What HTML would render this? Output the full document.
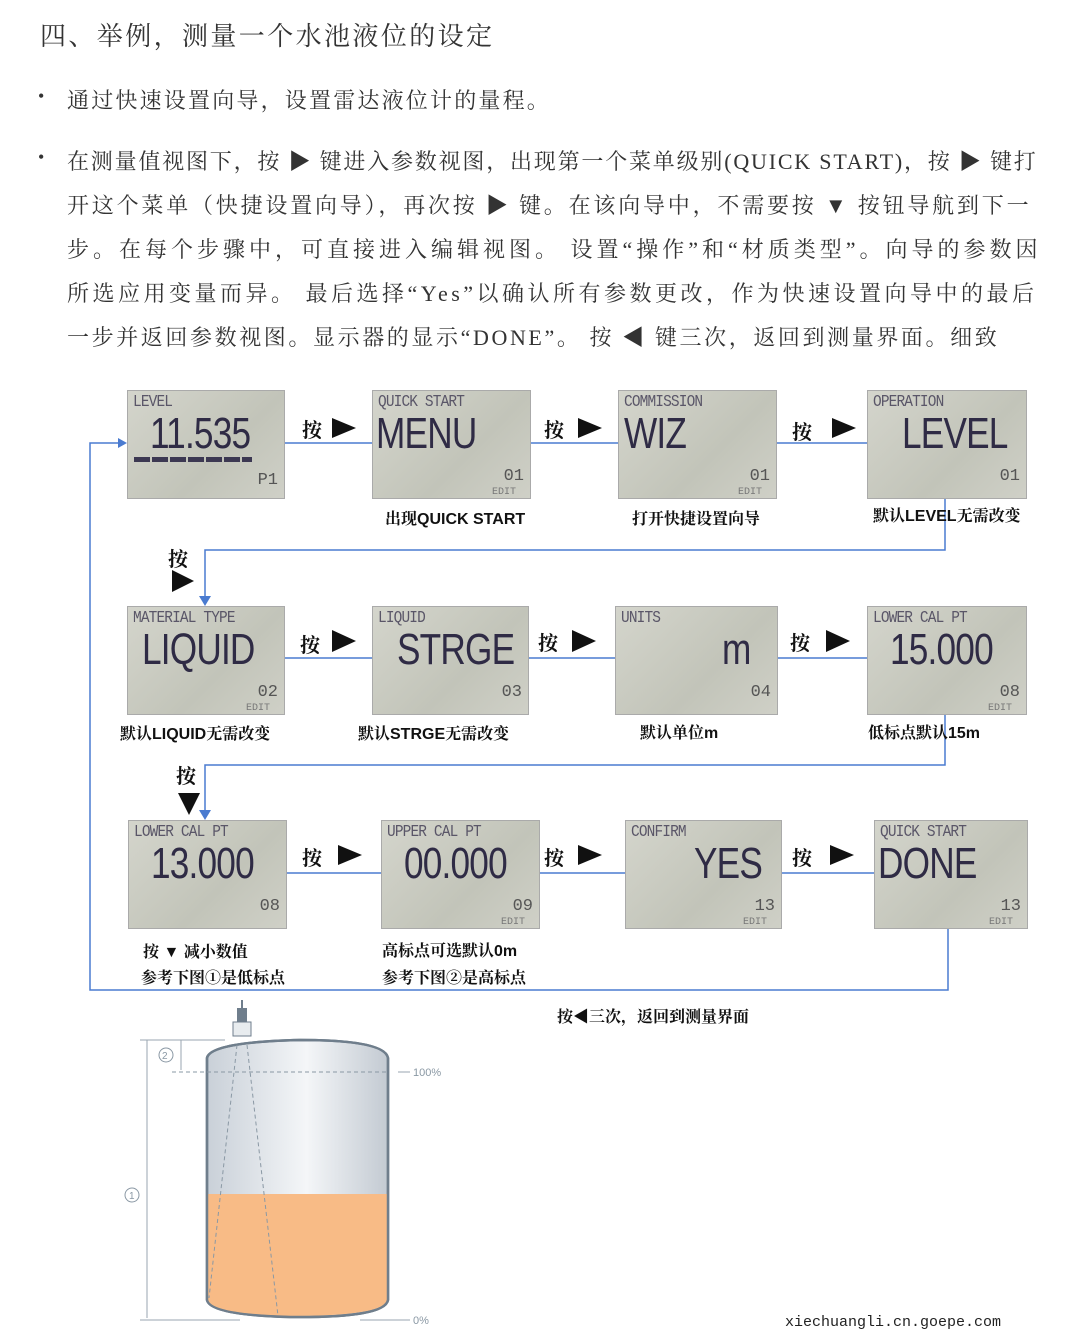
<!DOCTYPE html>
<html><head><meta charset="utf-8"><style>
body{margin:0;width:1080px;height:1342px;background:#fff;position:relative;overflow:hidden;font-family:"Liberation Serif","Noto Serif CJK SC",serif;color:#333}
.t{position:absolute;white-space:nowrap}
.p{font-size:22px;left:67px}
.lcd{position:absolute;background:linear-gradient(135deg,#d4d5cc,#c2c4b9 60%,#cfd0c7);border:1px solid #aaa;color:#3c3852;font-family:"Liberation Mono",monospace;overflow:hidden}
.lcd .s{position:absolute;left:5px;top:2px;font-size:17px;letter-spacing:-1px;color:#5a5668;transform:scaleX(.85);transform-origin:left}
.lcd .b{position:absolute;top:18px;font-size:44px;font-family:"Liberation Sans",sans-serif;transform:scaleX(.8);transform-origin:left;letter-spacing:-1px;color:#2f2b45}
.lcd .n{position:absolute;right:6px;bottom:12px;font-size:17px;color:#555}
.lcd .e{position:absolute;right:14px;bottom:0;font-size:10px;color:#777}
.lab{position:absolute;font-size:16px;font-weight:bold;font-family:"Liberation Sans","Noto Serif CJK SC",sans-serif;color:#111;white-space:nowrap}
.k{position:absolute;font-size:20px;font-weight:bold;font-family:"Noto Serif CJK SC",serif;color:#111;white-space:nowrap}
</style></head><body>
<div class="t" style="left:40px;top:16px;font-size:26px;letter-spacing:2.4px">四、举例，测量一个水池液位的设定</div>
<div class="t" style="left:38px;top:86px;font-size:18px">•</div>
<div class="t p" style="top:84px;letter-spacing:2.2px">通过快速设置向导，设置雷达液位计的量程。</div>
<div class="t" style="left:38px;top:147px;font-size:18px">•</div>
<div class="t p" style="top:145px;letter-spacing:1.8px">在测量值视图下，按 ▶ 键进入参数视图，出现第一个菜单级别(QUICK START)，按 ▶ 键打</div>
<div class="t p" style="top:189px;letter-spacing:2.8px">开这个菜单（快捷设置向导），再次按 ▶ 键。在该向导中，不需要按 ▼ 按钮导航到下一</div>
<div class="t p" style="top:233px;letter-spacing:4px">步。在每个步骤中，可直接进入编辑视图。 设置“操作”和“材质类型”。向导的参数因</div>
<div class="t p" style="top:277px;letter-spacing:3.5px">所选应用变量而异。 最后选择“Yes”以确认所有参数更改，作为快速设置向导中的最后</div>
<div class="t p" style="top:321px;letter-spacing:2.6px">一步并返回参数视图。显示器的显示“DONE”。 按 ◀ 键三次，返回到测量界面。细致</div>

<svg width="1080" height="1342" style="position:absolute;left:0;top:0">
<g stroke="#4a7bd0" stroke-width="1.5" fill="none">
<path d="M283 443H372M529 443H618M775 443H867"/>
<path d="M283 658H372M527 658H615M776 658H867"/>
<path d="M285 873H381M538 873H625M780 873H874"/>
<path d="M945 497V550H205V598"/>
<path d="M945 713V765H205V812"/>
<path d="M948 927V990H90V443H120"/>
</g>
<g fill="#4a7bd0"><path d="M199 596L205 606L211 596Z"/><path d="M199 810L205 820L211 810Z"/><path d="M118 438L127 443L118 448Z"/></g>
<g fill="#111"><path d="M332 418L356 428L332 438Z"/><path d="M578 418L602 428L578 438Z"/><path d="M832 418L856 428L832 438Z"/>
<path d="M332 630L356 641L332 652Z"/><path d="M572 630L596 641L572 652Z"/><path d="M826 630L850 641L826 652Z"/>
<path d="M338 845L362 855L338 865Z"/><path d="M578 845L602 855L578 865Z"/><path d="M830 845L854 855L830 865Z"/>
<path d="M172 570L194 581L172 592Z"/><path d="M178 793L200 793L189 815Z"/></g>
<defs><linearGradient id="g" x1="0" x2="1"><stop offset="0" stop-color="#c9d0d8"/><stop offset=".55" stop-color="#f4f6f8"/><stop offset="1" stop-color="#c3cad2"/></linearGradient></defs>
<path d="M207 1058Q210 1042 300 1040Q385 1040 388 1058V1300Q385 1318 290 1317Q210 1315 207 1300Z" fill="url(#g)" stroke="#6f7e8c" stroke-width="2.5"/>
<path d="M208 1194H387V1300Q384 1316 290 1316Q211 1314 208 1300Z" fill="#f8bb86"/>
<path d="M207 1058Q210 1042 300 1040Q385 1040 388 1058V1300Q385 1318 290 1317Q210 1315 207 1300Z" fill="none" stroke="#6f7e8c" stroke-width="2.5"/>
<rect x="233" y="1022" width="18" height="14" fill="#e8ecef" stroke="#6f7e8c"/><rect x="237" y="1008" width="10" height="14" fill="#6f7e8c"/><rect x="241" y="1000" width="2" height="10" fill="#6f7e8c"/>
<g stroke="#8a98a4" stroke-dasharray="4 3" fill="none"><path d="M172 1072H388"/><path d="M237 1045L209 1298M247 1045L278 1316"/></g>
<g stroke="#9aa6b0" fill="none"><path d="M140 1040H225M140 1320H240M360 1320H410M398 1072H410M147 1040V1318M181 1040V1070"/></g>
<g font-family="Liberation Sans" font-size="11" fill="#8a98a4"><text x="413" y="1076">100%</text><text x="413" y="1324">0%</text></g>
<circle cx="166" cy="1055" r="7" fill="none" stroke="#8a98a4"/><text x="162" y="1059" font-size="10" fill="#8a98a4" font-family="Liberation Sans">2</text>
<circle cx="132" cy="1195" r="7" fill="none" stroke="#8a98a4"/><text x="129" y="1199" font-size="10" fill="#8a98a4" font-family="Liberation Sans">1</text>
</svg>

<div class="lcd" style="left:127px;top:390px;width:156px;height:107px"><div class="s">LEVEL</div><div class="b" style="left:22px">11.535</div><div style="position:absolute;left:6px;top:66px;width:118px;height:5px;background:repeating-linear-gradient(90deg,#3c3852 0 16px,transparent 16px 18px)"></div><div class="n" style="bottom:8px">P1</div></div>
<div class="lcd" style="left:372px;top:390px;width:157px;height:107px"><div class="s">QUICK START</div><div class="b" style="left:3px">MENU</div><div class="n">01</div><div class="e">EDIT</div></div>
<div class="lcd" style="left:618px;top:390px;width:157px;height:107px"><div class="s">COMMISSION</div><div class="b" style="left:5px">WIZ</div><div class="n">01</div><div class="e">EDIT</div></div>
<div class="lcd" style="left:867px;top:390px;width:158px;height:107px"><div class="s">OPERATION</div><div class="b" style="left:34px">LEVEL</div><div class="n">01</div></div>

<div class="lcd" style="left:127px;top:606px;width:156px;height:107px"><div class="s">MATERIAL TYPE</div><div class="b" style="left:14px">LIQUID</div><div class="n">02</div><div class="e">EDIT</div></div>
<div class="lcd" style="left:372px;top:606px;width:155px;height:107px"><div class="s">LIQUID</div><div class="b" style="left:24px">STRGE</div><div class="n">03</div></div>
<div class="lcd" style="left:615px;top:606px;width:161px;height:107px"><div class="s">UNITS</div><div class="b" style="left:106px">m</div><div class="n">04</div></div>
<div class="lcd" style="left:867px;top:606px;width:158px;height:107px"><div class="s">LOWER CAL PT</div><div class="b" style="left:22px">15.000</div><div class="n">08</div><div class="e">EDIT</div></div>

<div class="lcd" style="left:128px;top:820px;width:157px;height:107px"><div class="s">LOWER CAL PT</div><div class="b" style="left:22px">13.000</div><div class="n">08</div></div>
<div class="lcd" style="left:381px;top:820px;width:157px;height:107px"><div class="s">UPPER CAL PT</div><div class="b" style="left:22px">00.000</div><div class="n">09</div><div class="e">EDIT</div></div>
<div class="lcd" style="left:625px;top:820px;width:155px;height:107px"><div class="s">CONFIRM</div><div class="b" style="left:68px">YES</div><div class="n">13</div><div class="e">EDIT</div></div>
<div class="lcd" style="left:874px;top:820px;width:152px;height:107px"><div class="s">QUICK START</div><div class="b" style="left:3px">DONE</div><div class="n">13</div><div class="e">EDIT</div></div>

<div class="k" style="left:302px;top:414px">按</div><div class="k" style="left:544px;top:414px">按</div><div class="k" style="left:792px;top:416px">按</div>
<div class="k" style="left:168px;top:543px">按</div>
<div class="k" style="left:300px;top:629px">按</div><div class="k" style="left:538px;top:627px">按</div><div class="k" style="left:790px;top:627px">按</div>
<div class="k" style="left:176px;top:760px">按</div>
<div class="k" style="left:302px;top:842px">按</div><div class="k" style="left:544px;top:842px">按</div><div class="k" style="left:792px;top:842px">按</div>

<div class="lab" style="left:385px;top:506px">出现QUICK START</div>
<div class="lab" style="left:632px;top:506px">打开快捷设置向导</div>
<div class="lab" style="left:873px;top:503px">默认LEVEL无需改变</div>
<div class="lab" style="left:120px;top:721px">默认LIQUID无需改变</div>
<div class="lab" style="left:358px;top:721px">默认STRGE无需改变</div>
<div class="lab" style="left:640px;top:720px">默认单位m</div>
<div class="lab" style="left:868px;top:720px">低标点默认15m</div>
<div class="lab" style="left:143px;top:939px">按 ▼ 减小数值</div>
<div class="lab" style="left:141px;top:965px">参考下图①是低标点</div>
<div class="lab" style="left:382px;top:938px">高标点可选默认0m</div>
<div class="lab" style="left:382px;top:965px">参考下图②是高标点</div>
<div class="lab" style="left:557px;top:1004px">按◀三次，返回到测量界面</div>
<div class="t" style="left:785px;top:1314px;font-size:15px;font-family:'Liberation Mono',monospace;color:#222">xiechuangli.cn.goepe.com</div>
</body></html>
